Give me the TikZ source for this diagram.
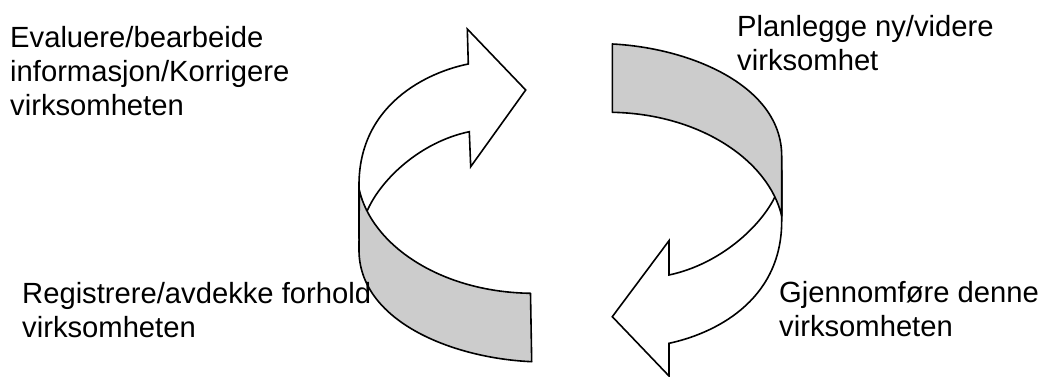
\documentclass[tikz,border=0pt]{standalone}
\usepackage{fontspec}
\setmainfont{Liberation Sans}
\definecolor{bandgray}{HTML}{CCCCCC}
\begin{document}
\begin{tikzpicture}[x=1pt,y=-1pt,
  front/.style={draw=black, line width=1.6pt, fill=white, line join=miter},
  band/.style={draw=black, line width=1.6pt, fill=bandgray, line join=round},
  lbl/.style={anchor=north west, inner sep=0pt, align=left, font=\fontsize{29.2}{34}\selectfont}]
\useasboundingbox (0,0) rectangle (1042,377);
% left arrow: front face
\draw[front] (468.3,64) .. controls (428,72) and (359,104) .. (359,185) -- (359,235) -- (366.7,212)
  .. controls (380,180) and (420,142) .. (469.3,131.7) -- (470.7,166.7) -- (525.7,90) -- (467.3,29) -- cycle;
% left arrow: back band
\draw[band] (359.3,190) .. controls (372,245) and (440,292) .. (530.5,293.3) -- (531.7,361.7)
  .. controls (450,358) and (359,320) .. (359,250) -- cycle;
% right arrow: front face
\draw[front] (669,343.3) .. controls (712.8,334) and (781.7,302) .. (781.7,221) -- (781.7,175) -- (775,196.7)
  .. controls (760.8,226) and (720.8,264) .. (669,275) -- (669,240.7) -- (612.3,316.7) -- (669,376) -- cycle;
% right arrow: back band
\draw[band] (781.7,216) .. controls (768.8,161) and (700.8,114) .. (612.3,112.3) -- (612.3,44)
  .. controls (690.8,48) and (781.7,86) .. (781.7,156) -- cycle;
% labels
\node[lbl] (eval) at (10,25.8) {Evaluere/bearbeide\\informasjon/Korrigere\\virksomheten};
\node[lbl] (plan) at (737,15.2) {Planlegge ny/videre\\virksomhet};
\node[lbl] (reg) at (22,281.8) {Registrere/avdekke forhold\\virksomheten};
\node[lbl] (gj) at (779,281.6) {Gjennomføre denne\\virksomheten};
\end{tikzpicture}
\end{document}
